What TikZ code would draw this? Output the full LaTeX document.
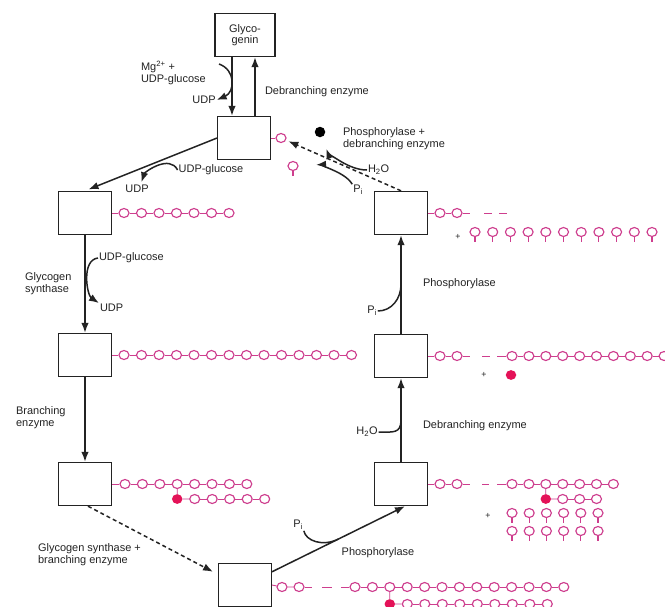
\documentclass[tikz,border=0pt]{standalone}
\usepackage{fontspec}
\setmainfont{Liberation Sans}
\usepackage{tikz}
\usetikzlibrary{positioning, arrows.meta, shapes.geometric, calc}

\definecolor{ink}{RGB}{35,35,35}
\definecolor{glcpink}{RGB}{206,62,142}
\definecolor{brred}{RGB}{228,18,88}

\begin{document}
\begin{tikzpicture}[
  x=0.4mm, y=-0.4mm,
  lbl/.style={font=\fontsize{12.5}{13.5}\selectfont, text=ink, align=left, inner sep=1pt},
  core/.style={draw=ink, line width=1.6pt, fill=white, minimum width=21mm, minimum height=17.2mm, inner sep=0pt},
  arr/.style={-{Latex[length=4mm, width=3mm]}, line width=1.7pt, draw=ink},
  feed/.style={line width=1.7pt, draw=ink},
  dsh/.style={dash pattern=on 1.6mm off 1.2mm},
  link/.style={draw=glcpink, line width=1pt},
  glc/.style={ellipse, draw=glcpink, line width=1.3pt, fill=white, minimum width=4mm, minimum height=3.6mm, inner sep=0pt},
  brk/.style={ellipse, fill=brred, minimum width=4.2mm, minimum height=3.9mm, inner sep=0pt},
  glcfree/.style={circle, fill=black, minimum size=4.2mm, inner sep=0pt},
  plus/.style={font=\fontsize{10}{10}\selectfont, text=ink, inner sep=0pt}
]
\path[use as bounding box, fill=white] (0,0) rectangle (665,606);

% Primer and glycogen particles
\node[core, minimum width=24mm, font=\fontsize{12.5}{12.5}\selectfont, align=center, text=ink] (genin) at (245,35) {Glyco-\\genin};
\node[core] (p1) at (244,138) {};
\node[core] (p2) at (85,213) {};
\node[core] (p3) at (85,355) {};
\node[core] (p4) at (85,484) {};
\node[core] (p5) at (245,585) {};
\node[core] (d1) at (401,484) {};
\node[core] (d2) at (401,356) {};
\node[core] (d3) at (401,213) {};

% Synthesis labels
\node[lbl, anchor=north west] (mg) at (140,60) {Mg\textsuperscript{2+} +\\UDP-glucose};
\node[lbl] (udp1) at (204,100) {UDP};
\node[lbl, anchor=west] (deb1) at (264,92) {Debranching enzyme};
\node[lbl] (udpg2) at (211,170) {UDP-glucose};
\node[lbl] (udp2) at (137,189) {UDP};
\node[lbl, anchor=west] (udpg3) at (98,258) {UDP-glucose};
\node[lbl, anchor=west] (gsyn) at (24,284) {Glycogen\\synthase};
\node[lbl, anchor=west] (udp3) at (99,308) {UDP};
\node[lbl, anchor=west] (bren) at (15,418) {Branching\\enzyme};
\node[lbl, anchor=west] (gsbe) at (37,555) {Glycogen synthase +\\branching enzyme};

% Degradation labels
\node[lbl] (pi3) at (298,525) {P\textsubscript{i}};
\node[lbl] (phos3) at (378,553) {Phosphorylase};
\node[lbl] (h2o2) at (367,432) {H\textsubscript{2}O};
\node[lbl, anchor=west] (deb2) at (422,426) {Debranching enzyme};
\node[lbl] (pi2) at (372,311) {P\textsubscript{i}};
\node[lbl, anchor=west] (phos2) at (422,284) {Phosphorylase};
\node[lbl, anchor=west] (h2o1) at (367,170) {H\textsubscript{2}O};
\node[lbl] (pi1) at (358,190) {P\textsubscript{i}};
\node[lbl, anchor=west] (phde) at (342,139) {Phosphorylase +\\debranching enzyme};

% Glucose chains, synthesis side
\node[glc] (p1g) at (281,138) {};
\draw[link] (p1.east) -- (p1g);

\foreach \i in {0,...,6} \node[glc] (p2c\i) at ({124+17.5*\i},213) {};
\draw[link] (p2.east) -- (p2c0);
\foreach \i [count=\j] in {0,...,5} \draw[link] (p2c\i) -- (p2c\j);

\foreach \i in {0,...,13} \node[glc] (p3c\i) at ({124+17.5*\i},355) {};
\draw[link] (p3.east) -- (p3c0);
\foreach \i [count=\j] in {0,...,12} \draw[link] (p3c\i) -- (p3c\j);

\foreach \i in {0,...,7} \node[glc] (p4c\i) at ({125+17.4*\i},484) {};
\node[brk] (p4b) at (177.2,499) {};
\foreach \i in {1,...,5} \node[glc] (p4r\i) at ({177.2+17.5*\i},499) {};
\draw[link] (p4.east) -- (p4c0);
\foreach \i [count=\j] in {0,...,6} \draw[link] (p4c\i) -- (p4c\j);
\draw[link] (p4c3) -- (p4b) -- (p4r1);
\foreach \i [count=\j from 2] in {1,...,4} \draw[link] (p4r\i) -- (p4r\j);

\node[glc] (p5c0) at (282,587) {};
\node[glc] (p5c1) at (299,587) {};
\draw[link] (p5.east) -- (p5c0) -- (p5c1);
\draw[link] (p5c1.east) -- ++(7,0);
\draw[link] (322,587) -- (332,587);
\foreach \i in {0,...,12} \node[glc] (p5m\i) at ({355+17.4*\i},587) {};
\draw[link] (p5m0.west) -- ++(-8,0);
\foreach \i [count=\j] in {0,...,11} \draw[link] (p5m\i) -- (p5m\j);
\node[brk] (p5b) at (389.8,604) {};
\foreach \i in {1,...,9} \node[glc] (p5r\i) at ({389.8+17.5*\i},604) {};
\draw[link] (p5m2) -- (p5b) -- (p5r1);
\foreach \i [count=\j from 2] in {1,...,8} \draw[link] (p5r\i) -- (p5r\j);

% Glucose chains, degradation side
\node[glc] (d3c0) at (440,213) {};
\node[glc] (d3c1) at (457,213) {};
\draw[link] (d3.east) -- (d3c0) -- (d3c1);
\draw[link] (d3c1.east) -- ++(7,0);
\draw[link] (484,213) -- (492,213);
\draw[link] (499,213) -- (507,213);
\node[plus] (pl1) at (458,237) {+};
\foreach \i in {0,...,10} {
  \node[glc] (d3p\i) at ({475+17.7*\i},232) {};
  \draw[link, line width=1.3pt] (d3p\i.south) -- ++(0,5);
}

\node[glc] (d2c0) at (440,356) {};
\node[glc] (d2c1) at (457,356) {};
\draw[link] (d2.east) -- (d2c0) -- (d2c1);
\draw[link] (d2c1.east) -- ++(7,0);
\draw[link] (482,356) -- (490,356);
\foreach \i in {0,...,9} \node[glc] (d2m\i) at ({512+16.9*\i},356) {};
\draw[link] (d2m0.west) -- ++(-9,0);
\foreach \i [count=\j] in {0,...,8} \draw[link] (d2m\i) -- (d2m\j);
\node[plus] (pl2) at (484,375) {+};
\node[brk] (d2b) at (511,375) {};

\node[glc] (d1c0) at (440,484) {};
\node[glc] (d1c1) at (457,484) {};
\draw[link] (d1.east) -- (d1c0) -- (d1c1);
\draw[link] (d1c1.east) -- ++(7,0);
\draw[link] (482,484) -- (489,484);
\foreach \i in {0,...,6} \node[glc] (d1m\i) at ({512+16.9*\i},484) {};
\draw[link] (d1m0.west) -- ++(-9,0);
\foreach \i [count=\j] in {0,...,5} \draw[link] (d1m\i) -- (d1m\j);
\node[brk] (d1b) at (545.8,499) {};
\foreach \i in {1,...,3} \node[glc] (d1r\i) at ({545.8+16.9*\i},499) {};
\draw[link] (d1m2) -- (d1b) -- (d1r1);
\foreach \i [count=\j from 2] in {1,2} \draw[link] (d1r\i) -- (d1r\j);
\node[plus] (pl3) at (488,516) {+};
\foreach \i in {0,...,5} {
  \node[glc] (d1p\i) at ({512+17.2*\i},513) {};
  \draw[link, line width=1.3pt] (d1p\i.south) -- ++(0,5);
  \node[glc] (d1q\i) at ({512+17.2*\i},531) {};
  \draw[link, line width=1.3pt] (d1q\i.south) -- ++(0,5);
}

% Released glucose and glucose 1-phosphate
\node[glcfree] (fg) at (320,132) {};
\node[glc] (g1p) at (293,166) {};
\draw[link, line width=1.3pt] (g1p.south) -- ++(0,5);

% Synthesis arrows
\draw[arr] ([xshift=-5.2mm]genin.south) -- ([xshift=-4.8mm]p1.north);
\draw[arr] ([xshift=4.4mm]p1.north) -- ([xshift=4mm]genin.south);
\draw[arr, shorten >=1.5mm] (p1.west) -- (p2.north);
\draw[arr] (p2.south) -- (p3.north);
\draw[arr] (p3.south) -- (p4.north);
\draw[arr, dsh] ([xshift=1.2mm]p4.south) -- ([shift={(-2mm,-3.6mm)}]p5.north west);

\coordinate (mgin) at (219,64);
\draw[arr] (mgin) .. controls (236,70) and (235,92) .. (udp1.east);
\draw[arr, shorten >=0.8mm] (udpg2.west) .. controls +(-8,-16) and +(4,-12) .. ([xshift=1.5mm]udp2.north);
\draw[arr] (udpg3.west) .. controls +(-17,2) and +(-12,-8) .. (udp3.north west);

% Degradation arrows
\path ([yshift=-3.6mm]p5.north east) coordinate (s3) ([xshift=1.6mm]d1.south) coordinate (e3);
\draw[arr] (s3) -- (e3);
\draw[feed] (pi3.south east) .. controls +(2,10) and +(-16,8) .. ($(s3)!0.5!(e3)$);
\draw[arr] (d1.north) -- (d2.south);
\draw[feed] (h2o2.east) .. controls +(14,0) and +(0,14) .. ($(d1.north)!0.5!(d2.south)$);
\draw[arr] (d2.north) -- (d3.south);
\draw[feed] (pi2.east) .. controls +(14,0) and +(0,14) .. ($(d2.north)!0.5!(d3.south)$);
\draw[arr, dsh, shorten >=1mm] (d3.north) -- (p1g);
\draw[arr, shorten >=5mm] (h2o1.west) .. controls +(-22,0) and +(6,16) .. (fg);
\draw[arr, shorten >=7mm] (pi1.north west) .. controls +(-8,-14) and +(20,-1) .. (g1p);

\end{tikzpicture}
\end{document}
